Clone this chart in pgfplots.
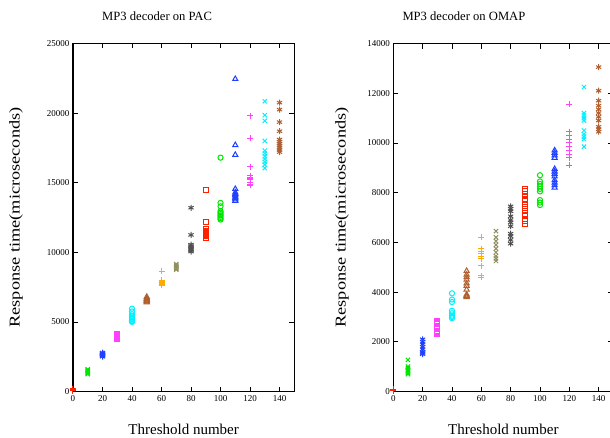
\documentclass[border=0pt]{standalone}
\usepackage{fontspec}
\setmainfont{Liberation Serif}
\usepackage{pgfplots}
\pgfplotsset{compat=1.18}

\definecolor{g1}{RGB}{255,32,0}
\definecolor{g2}{RGB}{0,230,0}
\definecolor{g3}{RGB}{32,64,255}
\definecolor{g4}{RGB}{255,64,255}
\definecolor{g5}{RGB}{0,240,255}
\definecolor{g6}{RGB}{176,96,48}
\definecolor{g7}{RGB}{255,170,0}
\definecolor{g8}{RGB}{144,144,96}
\definecolor{g9}{RGB}{80,80,80}

\pgfplotsset{
  gp/.style={scale only axis, height=348pt, xmin=0, xmax=150,
    xtick={0,20,...,140}, ymin=0, tick align=inside,
    major tick length=5pt, axis line style={line width=1.1pt},
    every tick/.style={black, line width=0.8pt},
    scaled ticks=false,
    /pgf/number format/assume math mode=true,
    /pgf/number format/set thousands separator={},
    tick label style={font=\fontsize{9}{10}\selectfont},
    label style={font=\fontsize{15}{17}\selectfont},
    every axis title shift=0pt,
    title style={font=\fontsize{12.6}{15}\selectfont, anchor=center},
    xlabel style={at={(axis description cs:0.5,-0.11)}, anchor=center},
    clip=false},
  mk/.style={only marks, mark options={line width=1pt, solid}},
  p1/.style={mk, g1, mark=+, mark size=3pt},
  p2/.style={mk, g2, mark=x, mark size=3pt},
  p3/.style={mk, g3, mark=asterisk, mark size=3pt},
  p4/.style={mk, g4, mark=square, mark size=2.6pt},
  p5/.style={mk, g5, mark=o, mark size=2.6pt},
  p6/.style={mk, g6, mark=triangle, mark size=3pt},
  p7/.style={mk, g7, mark=+, mark size=3pt},
  p8/.style={mk, g8, mark=x, mark size=3pt},
  p9/.style={mk, g9, mark=asterisk, mark size=3pt},
  q1/.style={mk, g1, mark=square, mark size=2.6pt},
  q2/.style={mk, g2, mark=o, mark size=2.6pt},
  q3/.style={mk, g3, mark=triangle, mark size=3pt},
  q4/.style={mk, g4, mark=+, mark size=3pt},
  q5/.style={mk, g5, mark=x, mark size=3pt},
  q6/.style={mk, g6, mark=asterisk, mark size=3pt},
}

\begin{document}
\begin{tikzpicture}
% PAC
\begin{axis}[gp, at={(73pt,45.5pt)}, anchor=south west, width=221.3pt,
  ymax=25000, ytick={0,5000,...,25000},
  title={MP3 decoder on PAC}, xlabel={Threshold number},
  title style={at={(axis description cs:0.38,1.079)}},
  ylabel={\scalebox{1.22}[1]{Response time(microseconds)}},
  ylabel style={at={(axis description cs:-0.258,0.5)}, anchor=center}]
\addplot[p1] coordinates {(0,60) (0,90) (0,110) (0,130) (0,160) (0,200)};
\addplot[p2] coordinates {(10,1250) (10,1300) (10,1350) (10,1400) (10,1450) (10,1500) (10,1550) (10,1600)};
\addplot[p3] coordinates {(20,2500) (20,2550) (20,2600) (20,2650) (20,2700) (20,2750) (20,2800)};
\addplot[p4] coordinates {(30,3750) (30,3800) (30,3850) (30,3900) (30,3950) (30,4000) (30,4050) (30,4100) (30,4150)};
\addplot[p5] coordinates {(40,5950) (40,5750) (40,5550) (40,5400) (40,5300) (40,5200) (40,5100) (40,5050) (40,5000)};
\addplot[p6] coordinates {(50,6400) (50,6450) (50,6500) (50,6550) (50,6600) (50,6650) (50,6700) (50,6800)};
\addplot[p7] coordinates {(60,8650) (60,8000) (60,7900) (60,7800) (60,7750) (60,7700) (60,7650)};
\addplot[p8] coordinates {(70,8750) (70,8800) (70,8850) (70,8900) (70,8950) (70,9000) (70,9100) (70,9150)};
\addplot[p9] coordinates {(80,13200) (80,11250) (80,10550) (80,10450) (80,10350) (80,10250) (80,10150) (80,10050)};
\addplot[q1] coordinates {(90,14450) (90,12200) (90,11650) (90,11550) (90,11450) (90,11350) (90,11250) (90,11150) (90,11050)};
\addplot[q2] coordinates {(100,16800) (100,13550) (100,13300) (100,12950) (100,12850) (100,12750) (100,12650) (100,12550) (100,12450) (100,12350)};
\addplot[q3] coordinates {(110,22450) (110,17700) (110,17000) (110,14550) (110,14300) (110,14200) (110,14100) (110,14000) (110,13900) (110,13800) (110,13700)};
\addplot[q4] coordinates {(120,19800) (120,18200) (120,16150) (120,15500) (120,15400) (120,15300) (120,15200) (120,15000) (120,14900) (120,14800)};
\addplot[q5] coordinates {(130,20850) (130,19850) (130,19450) (130,18000) (130,17300) (130,17100) (130,16900) (130,16700) (130,16500) (130,16300) (130,16050)};
\addplot[q6] coordinates {(140,20750) (140,20250) (140,19350) (140,18700) (140,18100) (140,17950) (140,17800) (140,17650) (140,17500) (140,17350) (140,17200)};
\end{axis}
% OMAP
\begin{axis}[gp, at={(393.3pt,45.5pt)}, anchor=south west, width=220pt,
  ymax=14000, ytick={0,2000,...,14000},
  title={MP3 decoder on OMAP}, xlabel={Threshold number},
  title style={at={(axis description cs:0.321,1.079)}},
  ylabel={\scalebox{1.22}[1]{Response time(microseconds)}},
  ylabel style={at={(axis description cs:-0.233,0.5)}, anchor=center}]
\addplot[p1] coordinates {(0,40) (0,60) (0,80) (0,100)};
\addplot[p2] coordinates {(10,1270) (10,1000) (10,950) (10,900) (10,850) (10,800) (10,750) (10,700)};
\addplot[p3] coordinates {(20,2100) (20,2000) (20,1900) (20,1800) (20,1700) (20,1600) (20,1550) (20,1500)};
\addplot[p4] coordinates {(30,2850) (30,2800) (30,2750) (30,2700) (30,2500) (30,2450) (30,2400) (30,2350) (30,2300)};
\addplot[p5] coordinates {(40,3950) (40,3700) (40,3600) (40,3250) (40,3150) (40,3050) (40,3000) (40,2950)};
\addplot[p6] coordinates {(50,4850) (50,4700) (50,4600) (50,4500) (50,4350) (50,4250) (50,4100) (50,3900) (50,3850) (50,3800)};
\addplot[p7] coordinates {(60,6200) (60,5750) (60,5650) (60,5550) (60,5450) (60,5350) (60,5050) (60,4650) (60,4600)};
\addplot[p8] coordinates {(70,6450) (70,6200) (70,6050) (70,5900) (70,5750) (70,5600) (70,5450) (70,5350) (70,5250)};
\addplot[p9] coordinates {(80,7450) (80,7350) (80,7250) (80,7050) (80,6900) (80,6800) (80,6650) (80,6350) (80,6250) (80,6100) (80,5950)};
\addplot[q1] coordinates {(90,8150) (90,8050) (90,7950) (90,7850) (90,7700) (90,7550) (90,7400) (90,7250) (90,7100) (90,6950) (90,6850) (90,6750)};
\addplot[q2] coordinates {(100,8700) (100,8450) (100,8350) (100,8250) (100,8150) (100,8050) (100,7700) (100,7600) (100,7500)};
\addplot[q3] coordinates {(110,9700) (110,9600) (110,9500) (110,9400) (110,8950) (110,8850) (110,8750) (110,8650) (110,8500) (110,8400) (110,8300) (110,8200)};
\addplot[q4] coordinates {(120,11550) (120,10450) (120,10300) (120,10150) (120,10000) (120,9850) (120,9700) (120,9550) (120,9400) (120,9100)};
\addplot[q5] coordinates {(130,12250) (130,11200) (130,11100) (130,11000) (130,10900) (130,10500) (130,10350) (130,10250) (130,10150) (130,9850)};
\addplot[q6] coordinates {(140,13050) (140,12100) (140,11700) (140,11500) (140,11350) (140,11200) (140,11050) (140,10900) (140,10650) (140,10550) (140,10450)};
\end{axis}
\pgfresetboundingbox
\useasboundingbox (0,0) rectangle (610pt,437pt);
\end{tikzpicture}
\end{document}
